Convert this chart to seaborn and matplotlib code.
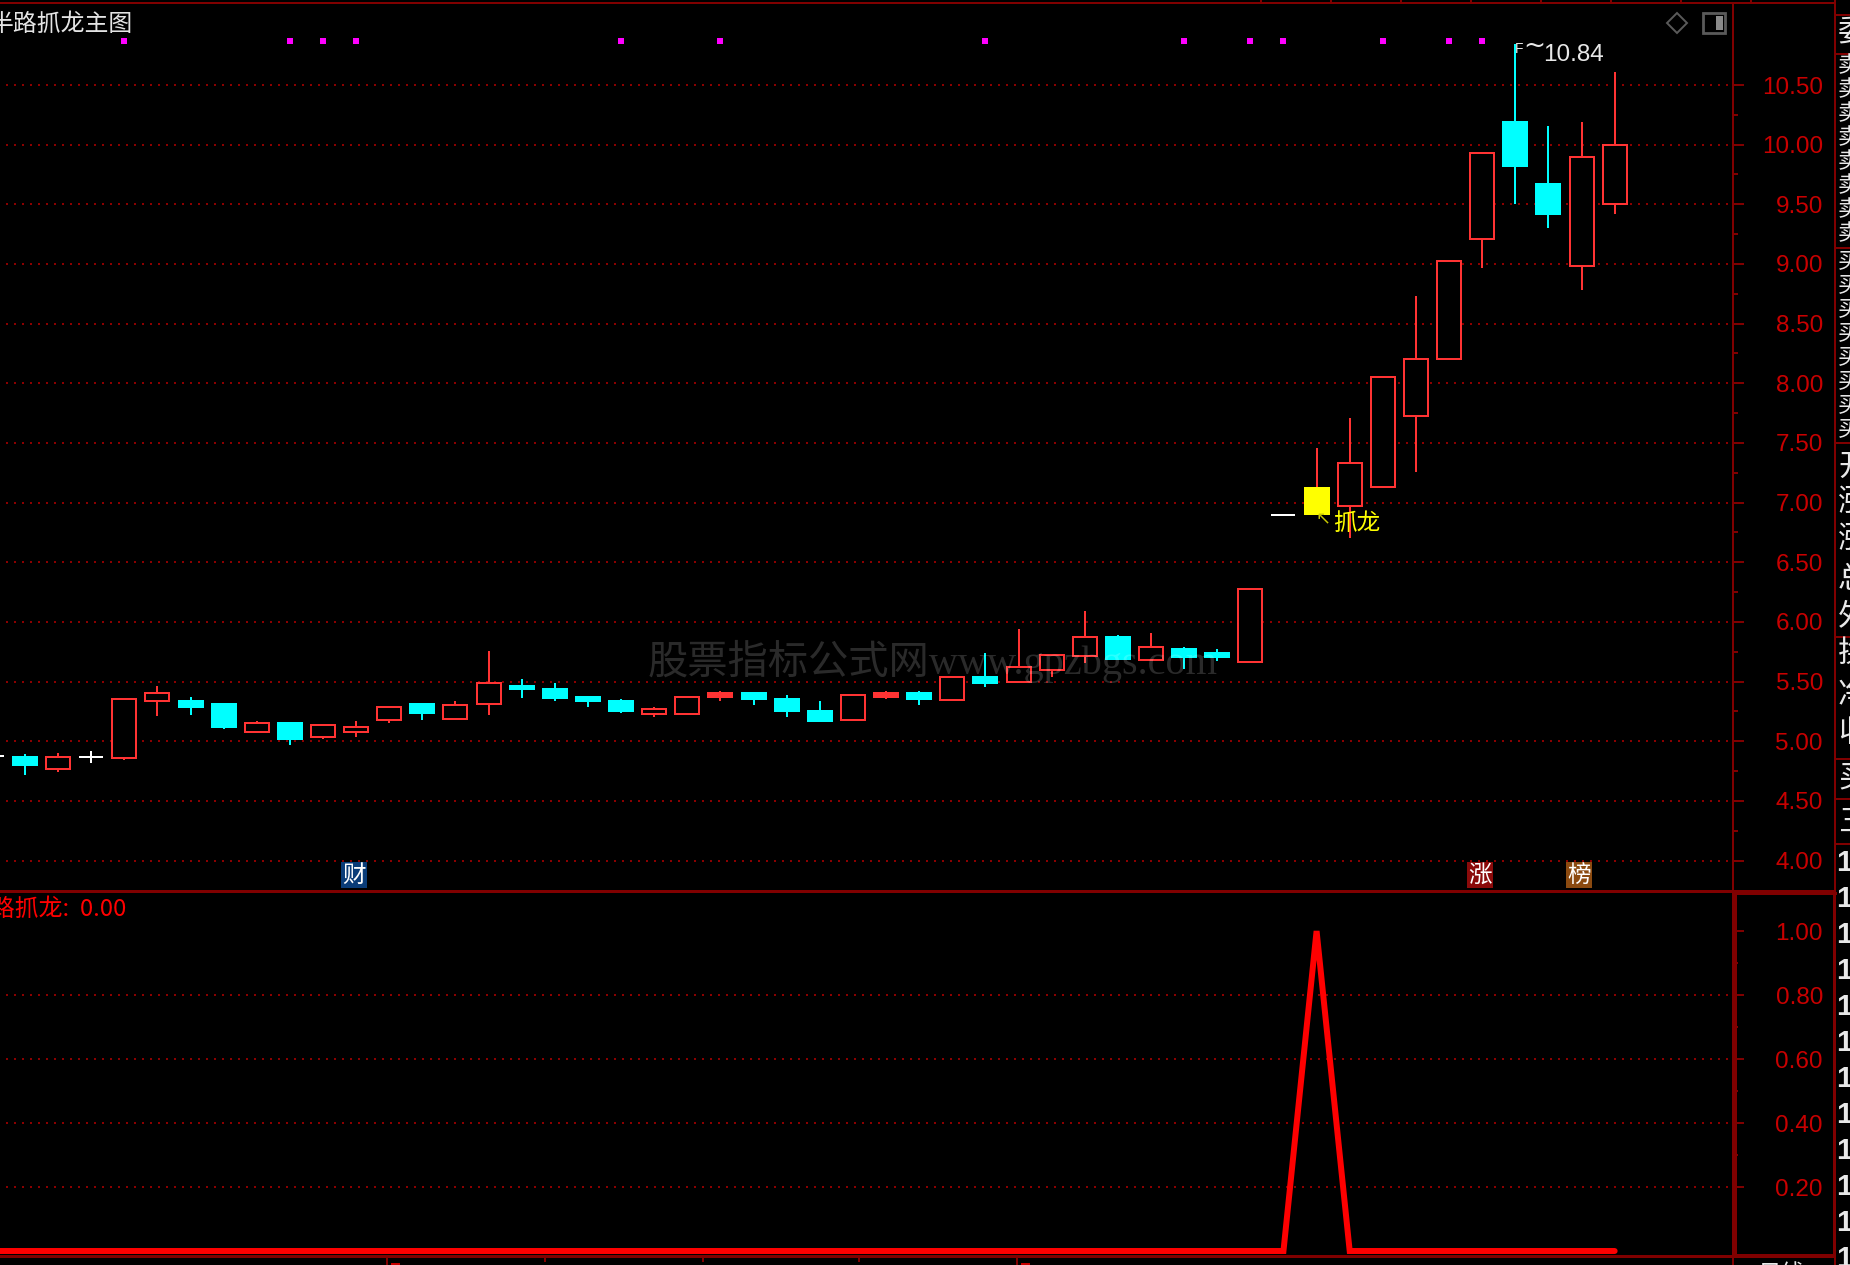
import numpy as np
import pandas as pd
import matplotlib
matplotlib.use("Agg")
import matplotlib.pyplot as plt
from matplotlib.lines import Line2D
from matplotlib.patches import Rectangle
import seaborn as sns

# ---------- data ----------
bars = list(range(-1, 49))
opens = [4.88, 4.87, 4.77, 4.866, 4.858, 5.34, 5.34, 5.31, 5.075, 5.155,
         5.04, 5.075, 5.175, 5.31, 5.19, 5.31, 5.46, 5.44, 5.375, 5.34,
         5.226, 5.226, 5.374, 5.408, 5.358, 5.257, 5.176, 5.374, 5.408, 5.344,
         5.542, 5.494, 5.595, 5.712, 5.877, 5.679, 5.777, 5.743, 5.662, 6.898,
         7.123, 6.976, 7.129, 7.73, 8.204, 9.207, 10.189, 9.67, 8.985, 9.506]
closes = [4.88, 4.80, 4.87, 4.866, 5.355, 5.405, 5.29, 5.12, 5.155, 5.02,
          5.135, 5.12, 5.29, 5.24, 5.305, 5.49, 5.44, 5.36, 5.34, 5.257,
          5.27, 5.37, 5.408, 5.358, 5.257, 5.173, 5.388, 5.408, 5.358, 5.54,
          5.49, 5.623, 5.723, 5.874, 5.693, 5.79, 5.71, 5.71, 6.277, 6.898,
          6.907, 7.335, 8.054, 8.207, 9.027, 9.931, 9.82, 9.419, 9.9, 10.0]
highs = [4.90, 4.89, 4.905, 4.92, 5.355, 5.46, 5.375, 5.32, 5.17, 5.155,
         5.135, 5.17, 5.29, 5.325, 5.34, 5.76, 5.525, 5.49, 5.375, 5.357,
         5.29, 5.37, 5.425, 5.408, 5.39, 5.34, 5.388, 5.425, 5.425, 5.54,
         5.743, 5.944, 5.723, 6.095, 5.894, 5.91, 5.793, 5.777, 6.277, 6.898,
         7.458, 7.71, 8.054, 8.73, 9.027, 9.931, 10.84, 10.156, 10.189, 10.608]
lows = [4.86, 4.72, 4.74, 4.82, 4.84, 5.21, 5.22, 5.105, 5.075, 4.97,
        5.02, 5.04, 5.155, 5.175, 5.175, 5.22, 5.36, 5.34, 5.29, 5.24,
        5.207, 5.226, 5.34, 5.307, 5.207, 5.173, 5.176, 5.357, 5.307, 5.344,
        5.458, 5.494, 5.542, 5.659, 5.693, 5.679, 5.609, 5.676, 5.662, 6.898,
        6.907, 6.707, 7.129, 7.254, 8.204, 8.967, 9.506, 9.302, 8.781, 9.419]
signal_bar = 39
signal_dots = [3, 8, 9, 10, 18, 21, 29, 35, 37, 38, 41, 43, 44]
indicator = [1.0 if b == signal_bar else 0.0 for b in bars]

price_ticks = [4.0, 4.5, 5.0, 5.5, 6.0, 6.5, 7.0, 7.5, 8.0, 8.5, 9.0, 9.5, 10.0, 10.5]
price_minor = [4.25, 4.75, 5.25, 5.75, 6.25, 6.75, 7.25, 7.75, 8.25, 8.75, 9.25, 9.75, 10.25]
ind_ticks = [0.2, 0.4, 0.6, 0.8, 1.0]
ind_minor = [0.3, 0.5, 0.7, 0.9]
ind_grid = [0.2, 0.4, 0.6, 0.8]
badges = [(10, "财", "#0A3C78"), (44, "涨", "#8B0A0A"), (47, "榜", "#8B4A10")]

# ---------- colours / layout ----------
RED = "#FF3333"
CYAN = "#00FFFF"
DARK = "#800000"
LABEL = "#C80000"
CJK = ["Noto Sans CJK SC", "DejaVu Sans"]
W, H = 1850, 1265
PX = 0.72  # points per pixel at dpi 100
STEP = 33.12  # pixels per bar
XLIM = (-24.9 / STEP, (1733 - 24.9) / STEP)

sns.set_style("dark", {"axes.facecolor": "black", "figure.facecolor": "black"})
plt.rcParams["font.family"] = ["Liberation Sans", "DejaVu Sans"]

fig = plt.figure(figsize=(W / 100, H / 100), dpi=100, facecolor="black")
ax = fig.add_axes([0, (H - 891) / H, 1733 / W, 888 / H], facecolor="black")
ax2 = fig.add_axes([0, (H - 1256) / H, 1733 / W, 364 / H], facecolor="black")
top = fig.add_axes([0, 0, 1, 1], zorder=5)
top.set_xlim(0, W)
top.set_ylim(H, 0)
top.axis("off")

# ---------- price panel ----------
df = pd.DataFrame({"bar": bars, "open": opens, "close": closes, "high": highs, "low": lows})
df["color"] = np.where(df["close"] > df["open"], RED, np.where(df["close"] < df["open"], CYAN, "white"))
df["wick"] = df["color"]
df.loc[df["bar"] == signal_bar, "color"] = "#FFFF00"
df.loc[df["bar"] == signal_bar, "wick"] = RED
df["bottom"] = df[["open", "close"]].min(axis=1)
df["size"] = (df["close"] - df["open"]).abs()
# up bars are hollow, except the very thin ones which read as solid
df["face"] = np.where((df["color"] == RED) & (df["size"] >= 0.04), "black", df["color"])

ax.vlines(df["bar"], df["low"], df["high"], colors=df["wick"], lw=2 * PX, zorder=2, antialiased=False)
ax.bar(df["bar"], df["size"], bottom=df["bottom"], width=24 / STEP, color=df["face"],
       edgecolor=df["color"], linewidth=2 * PX, zorder=3, antialiased=False)

dots = df[df["bar"].isin(signal_dots)].assign(level=10.87)
sns.scatterplot(data=dots, x="bar", y="level", ax=ax, marker="s", s=19, color="#FF00FF",
                linewidth=0, zorder=4, legend=False)

ax.text(27.4, 5.67, "股票指标公式网www.gpzbgs.com", fontsize=29, color="white", alpha=0.17,
        family=["Liberation Serif", "Noto Sans CJK SC"], ha="center", va="center", zorder=6)

hi_bar = df.loc[df["high"].idxmax()]
ax.annotate("F", (hi_bar["bar"], hi_bar["high"]), xytext=(0, 2), textcoords="offset points",
            color="#E8E8E8", fontsize=10, va="top", ha="left", zorder=5)
ax.annotate("~", (hi_bar["bar"], hi_bar["high"]), xytext=(8 * PX, -1 * PX), textcoords="offset points",
            color="#E8E8E8", fontsize=19, family="DejaVu Sans", va="center", ha="left", zorder=5)
ax.annotate(f"{hi_bar['high']:.2f}", (hi_bar["bar"], hi_bar["high"]), xytext=(28 * PX, -10.6 * PX),
            textcoords="offset points", color="#E8E8E8", fontsize=17.5, va="center", ha="left", zorder=5)

sig_low = df.loc[df["bar"] == signal_bar, "low"].iloc[0]
ax.annotate("↖", (signal_bar, sig_low), xytext=(6 * PX, -6 * PX), textcoords="offset points",
            color="#C8C800", fontsize=13, family="DejaVu Sans", va="center", ha="center", zorder=5)
ax.annotate("抓龙", (signal_bar, sig_low), xytext=(17 * PX, -9.5 * PX), textcoords="offset points",
            color="#FFFF00", fontsize=17, family=CJK, va="center", ha="left", zorder=5)

for b, ch, col in badges:
    ax.text(b - 0.07, 3.88, ch, color="white", fontsize=17, family=CJK, ha="center", va="center", zorder=5,
            bbox=dict(boxstyle="square,pad=0.05", facecolor=col, edgecolor="none"))

ax.set_ylim(10.5 - (891 - 85) / 119.33, 10.5 + (85 - 3) / 119.33)

# ---------- indicator panel ----------
sns.lineplot(x=bars, y=indicator, ax=ax2, color="#FF0000", lw=4.3, zorder=3, legend=False,
             solid_joinstyle="miter")
ax2.set_ylim((1251 - 1256) / 320, (1251 - 892) / 320)

# ---------- axes chrome ----------
grid_style = dict(colors="#8B0000", lw=2 * PX, linestyles=[(0, (1, 3))], zorder=1, antialiased=False)
for a, majors, minors, grid in [(ax, price_ticks, price_minor, price_ticks),
                                (ax2, ind_ticks, ind_minor, ind_grid)]:
    a.set_xlim(*XLIM)
    a.hlines(grid, XLIM[0] + 6 / STEP, XLIM[1], **grid_style)
    for s in a.spines.values():
        s.set_visible(False)
    a.grid(False)
    a.set_xticks([])
    a.set_xlabel("")
    a.set_ylabel("")
    a.yaxis.tick_right()
    a.set_yticks(majors)
    a.set_yticks(minors, minor=True)
    a.set_yticklabels([f"{v:.2f}" for v in majors], fontsize=17.5, color=LABEL, ha="right")
    a.tick_params(axis="y", which="major", direction="out", length=11 * PX, width=2 * PX, color=DARK,
                  pad=(90 - 11) * PX, left=False, right=True)
    a.tick_params(axis="y", which="minor", direction="out", length=5 * PX, width=2 * PX, color=DARK,
                  left=False, right=True)

# frame lines are in figure pixels
def hline(y, x0, x1, lw=2):
    top.add_line(Line2D([x0, x1], [y, y], color=DARK, lw=lw * PX, antialiased=False, solid_capstyle="butt"))

def vline(x, y0, y1, lw=2):
    top.add_line(Line2D([x, x], [y0, y1], color=DARK, lw=lw * PX, antialiased=False, solid_capstyle="butt"))

hline(3, 0, 1835)
hline(891, 0, 1835, 3)
hline(1256, 0, 1733, 3)
hline(1256, 1733, 1836, 4)
hline(893, 1733, 1836, 3)
vline(1733, 3, 1265)
vline(1735, 892, 1256, 3)
vline(1835, 0, 1265, 2)
vline(1834, 892, 1256, 3)
for x in range(1261, 1752, 70):
    vline(x, 0, 3)
for y in [15, 54, 248, 443, 637, 759, 799, 844]:
    hline(y, 1835, W)

# bottom time axis stub
for x, long_tick in [(387, True), (545, False), (703, False), (859, False), (1017, True)]:
    vline(x, 1257, 1265 if long_tick else 1262)
    if long_tick:
        top.add_line(Line2D([x + 5, x + 12], [1264, 1264], color="#C80000", lw=2 * PX, antialiased=False))
top.text(1758, 1263, "日线", color="#E8E8E8", fontsize=17, family=CJK, va="top", ha="left")

# top right icons
top.add_line(Line2D([1677], [23], marker="D", ms=10, mfc="none", mec="#5A5A5A", mew=1.4, ls="none"))
top.add_patch(Rectangle((1703, 13), 22, 20, fc="none", ec="#5A5A5A", lw=2))
top.add_patch(Rectangle((1716, 16), 7, 14, fc="#8A8A8A", ec="none"))

# titles
top.text(133, 24, "半路抓龙主图", color="#E4E4E4", fontsize=17.2, family=CJK, ha="right", va="center")
top.text(126, 909, "半路抓龙:  0.00", color="#FF0000", fontsize=17.2, family=CJK, ha="right", va="center")

# quote column on the right, cut off by the window edge
side_rows = [("委", 33, 22)]
side_rows += [("卖", y, 16) for y in range(66, 240, 24)]
side_rows += [("买", y, 16) for y in range(262, 438, 24)]
side_rows += [("开", 467, 22), ("涨", 503, 22), ("涨", 540, 22), ("总", 580, 22), ("外", 617, 22),
              ("换", 653, 22), ("净", 695, 22), ("收", 733, 22), ("买", 778, 22), ("三", 822, 22)]
for ch, y, fs in side_rows:
    top.text(1838, y, ch, color="#E8E8E8", fontsize=fs, family=CJK, ha="left", va="center")
for y in range(863, 1265, 36):
    top.text(1836, y, "1", color="#E8E8E8", fontsize=21, ha="left", va="center", fontweight="bold")

fig.savefig("out.png", dpi=100, facecolor="black")
